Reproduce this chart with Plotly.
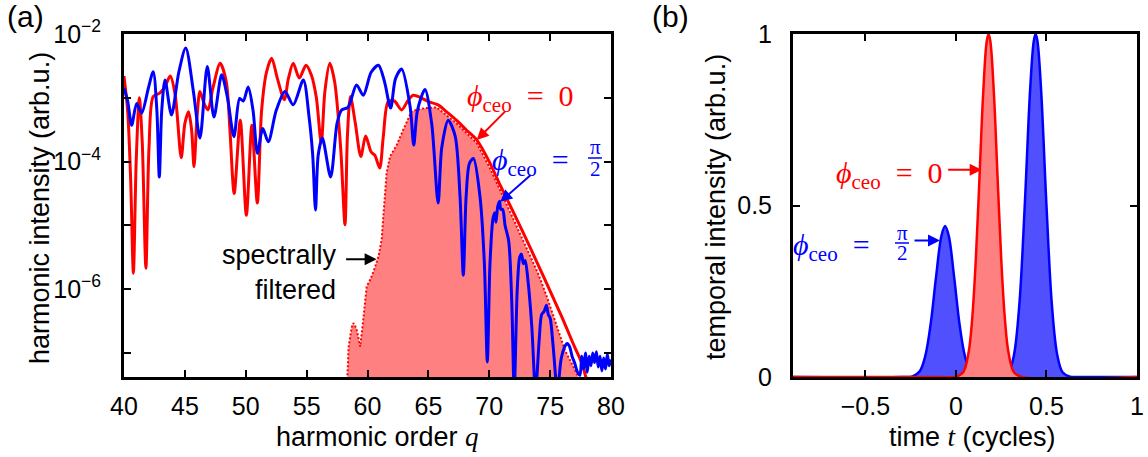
import numpy as np
import plotly.graph_objects as go

# ---------------- panel (a): harmonic spectra (log10 of intensity) ----------------
red_q = [40.0, 40.3, 40.55, 40.77, 41.0, 41.26, 41.5, 41.8, 42.05, 42.4, 42.9, 43.3, 43.8,
         44.2, 44.7, 45.0, 45.3, 45.55, 45.75, 46.0, 46.24, 46.6, 46.9, 47.3, 47.9, 48.4,
         48.7, 49.05, 49.55, 50.05, 50.5, 50.95, 51.3, 51.7, 52.13, 52.6, 53.17, 53.5, 53.9,
         54.4, 54.95, 55.4, 55.8, 56.2, 56.5, 56.9, 57.3, 57.8, 58.15, 58.35, 58.6, 59.0,
         59.45, 59.85, 60.3, 60.6, 61.0, 61.3, 61.7, 62.2, 62.8, 63.3, 63.76, 64.4, 65.0,
         65.8, 66.5, 67.3, 68.1, 68.97, 70.0, 70.9, 72.0, 73.2, 74.5, 75.95, 77.0, 77.6, 78.1]
red_log = [-2.66, -3.2, -4.3, -5.75, -4.0, -3.0, -3.7, -5.67, -3.8, -2.98, -2.93, -2.85, -2.66,
           -2.95, -3.94, -3.4, -3.22, -3.5, -4.08, -3.3, -2.9, -3.1, -3.19, -2.85, -2.46, -2.75,
           -3.5, -4.5, -3.35, -4.84, -3.43, -4.65, -3.2, -2.6, -2.38, -2.7, -3.03, -2.7, -2.46,
           -2.69, -2.49, -2.65, -3.0, -3.71, -2.9, -2.46, -2.75, -3.8, -4.99, -3.6, -2.98, -3.4,
           -3.92, -3.6, -3.85, -3.9, -4.1, -3.6, -3.06, -3.05, -3.19, -3.05, -2.96, -3.0, -3.06,
           -3.11, -3.22, -3.35, -3.5, -3.66, -4.0, -4.37, -4.8, -5.28, -5.82, -6.43, -6.9, -7.16, -7.5]

blue_q = [40.0, 40.3, 40.63, 41.04, 41.45, 42.0, 42.4, 42.7, 42.9, 43.1, 43.37, 43.9, 44.5,
          45.07, 45.7, 46.24, 46.84, 47.39, 48.02, 48.5, 49.03, 49.5, 49.8, 50.2, 50.6, 50.96,
          51.4, 51.85, 52.5, 53.22, 53.9, 54.73, 55.2, 55.5, 55.73, 55.95, 56.29, 56.97, 57.5,
          57.87, 58.4, 59.1, 59.65, 60.3, 60.9, 61.4, 61.9, 62.3, 62.8, 63.5, 63.8, 64.1, 64.72,
          65.27, 65.8, 66.1, 66.63, 67.2, 67.6, 67.87, 68.1, 68.37, 68.7, 69.24, 69.6, 69.84,
          70.06, 70.3, 70.45, 70.55, 70.7, 70.85, 70.95, 71.1, 71.3, 71.6, 71.85, 72.05, 72.3,
          72.5, 72.65, 72.8, 72.95, 73.2, 73.5, 73.8, 74.1, 74.3, 74.5, 74.7, 74.85, 75.0, 75.25,
          75.6, 75.9, 76.2, 76.4, 76.6, 76.8, 77.0, 77.25, 77.45, 77.6, 77.75, 77.9, 78.05, 78.2,
          78.35, 78.5, 78.65, 78.8, 78.95, 79.1, 79.25, 79.4, 79.55, 79.7, 79.85, 80.0]
blue_log = [-2.85, -3.05, -3.43, -3.09, -3.24, -2.85, -2.59, -3.2, -4.24, -3.2, -2.72, -3.27, -2.6,
            -2.22, -2.9, -3.63, -2.51, -3.30, -2.64, -3.0, -3.61, -3.01, -3.05, -2.83, -3.2, -3.87,
            -3.48, -3.69, -3.2, -2.90, -3.11, -2.72, -3.3, -3.9, -4.76, -3.9, -3.63, -4.24, -3.4,
            -3.19, -3.15, -2.8, -2.96, -2.6, -2.49, -2.75, -3.16, -2.7, -2.55, -3.14, -3.74, -3.2, -2.87,
            -3.4, -4.65, -3.78, -3.35, -3.6, -4.55, -5.78, -4.55, -4.03, -3.95, -4.55, -5.6, -7.14,
            -5.6, -4.9, -4.8, -4.95, -4.7, -4.62, -4.75, -4.75, -5.0, -5.25, -6.2, -7.6, -6.0,
            -5.5, -5.45, -5.6, -5.55, -5.9, -6.6, -7.6, -6.8, -6.4, -6.35, -6.25, -6.4, -6.45, -6.9,
            -7.6, -7.1, -6.9, -6.85, -6.9, -7.05, -7.15, -7.3, -7.35, -7.05, -7.25, -7.0, -7.3, -7.05,
            -7.2, -7.0, -7.15, -6.98, -7.22, -7.05, -7.28, -7.08, -7.25, -7.02, -7.2, -7.1]

# spectrally filtered part of the phi_ceo = 0 spectrum
filt_q = [58.30, 58.45, 58.7, 58.84, 59.1, 59.4, 59.65, 59.93, 60.2, 60.5, 60.9, 61.16, 61.3,
          61.57, 61.85, 62.4, 62.94, 63.6, 64.0, 64.8, 65.67, 66.1, 67.3, 68.97, 70.0, 70.9,
          72.0, 73.0, 74.0, 74.7, 75.5, 76.2, 77.0, 77.6]
filt_log = [-7.6, -6.9, -6.6, -6.53, -6.62, -6.9, -6.48, -5.96, -5.86, -5.72, -5.49, -5.23, -4.86,
            -4.18, -3.92, -3.74, -3.5, -3.22, -3.19, -3.16, -3.15, -3.22, -3.4, -3.71, -4.08, -4.45,
            -4.9, -5.33, -5.75, -6.1, -6.55, -6.95, -7.25, -7.5]

q_ticks = [40, 45, 50, 55, 60, 65, 70, 75, 80]
y_decades = [-2, -3, -4, -5, -6, -7]

# ---------------- panel (b): temporal intensity ----------------
t_red = [-0.9, -0.1, 0.0, 0.04, 0.07, 0.09, 0.11, 0.13, 0.15, 0.17, 0.18, 0.19, 0.21, 0.23,
         0.25, 0.27, 0.29, 0.32, 0.36, 1.0]
i_red = [0.0, 0.0, 0.001, 0.014, 0.072, 0.172, 0.345, 0.581, 0.823, 0.979, 1.0, 0.979, 0.823,
         0.581, 0.345, 0.172, 0.072, 0.014, 0.001, 0.0]

t_blue = [-0.9, -0.3, -0.24, -0.2, -0.17, -0.14, -0.11, -0.08, -0.06, -0.04, -0.01, 0.02, 0.05,
          0.08, 0.12, 0.2, 0.25, 0.29, 0.32, 0.35, 0.38, 0.41, 0.43, 0.44, 0.45, 0.47, 0.5, 0.53,
          0.56, 0.59, 0.63, 0.68, 1.0]
i_blue = [0.0, 0.0, 0.002, 0.017, 0.06, 0.153, 0.291, 0.412, 0.44, 0.412, 0.291, 0.153, 0.06,
          0.017, 0.002, 0.0, 0.001, 0.013, 0.063, 0.21, 0.5, 0.84, 0.98, 1.0, 0.98, 0.84, 0.5,
          0.21, 0.063, 0.013, 0.001, 0.0, 0.0]
t_ticks = [-0.5, 0, 0.5, 1]
i_ticks = [0, 0.5, 1]

RED = "#ff0000"
BLUE = "#0000ff"
RED_FILL = "rgb(255,128,128)"
BLUE_FILL = "rgb(80,80,255)"
SANS = "Liberation Sans, Arial, sans-serif"
SERIF = "Liberation Serif, DejaVu Serif, serif"
W, H = 1148, 457


def px(x):
    return x / W


def py(y):
    return 1 - y / H


fig = go.Figure()

fig.add_trace(go.Scatter(x=filt_q, y=10 ** np.array(filt_log), mode="lines",
                         line=dict(color=RED, width=2, dash="2px,2px"),
                         fill="tozeroy", fillcolor=RED_FILL,
                         xaxis="x", yaxis="y", showlegend=False))
fig.add_trace(go.Scatter(x=red_q, y=10 ** np.array(red_log), mode="lines",
                         line=dict(color=RED, width=3, shape="spline", smoothing=0.8),
                         xaxis="x", yaxis="y", showlegend=False))
fig.add_trace(go.Scatter(x=blue_q, y=10 ** np.array(blue_log), mode="lines",
                         line=dict(color=BLUE, width=3, shape="spline", smoothing=0.8),
                         xaxis="x", yaxis="y", showlegend=False))

fig.add_trace(go.Scatter(x=t_blue, y=i_blue, mode="lines",
                         line=dict(color=BLUE, width=2.5, shape="spline"),
                         fill="tozeroy", fillcolor=BLUE_FILL,
                         xaxis="x2", yaxis="y2", showlegend=False))
fig.add_trace(go.Scatter(x=t_red, y=i_red, mode="lines",
                         line=dict(color=RED, width=2.5, shape="spline"),
                         fill="tozeroy", fillcolor=RED_FILL,
                         xaxis="x2", yaxis="y2", showlegend=False))

axis_common = dict(showline=True, linewidth=3, linecolor="black", mirror="ticks",
                   ticks="inside", ticklen=7, tickwidth=2, tickcolor="black",
                   showgrid=False, zeroline=False, automargin=False,
                   tickfont=dict(family=SANS, size=25, color="black"))

ydom = [py(377), py(34)]
fig.update_layout(
    width=W, height=H, margin=dict(l=0, r=0, t=0, b=0, autoexpand=False),
    paper_bgcolor="white", plot_bgcolor="white",
    xaxis=dict(domain=[px(124), px(611)], range=[40, 80], tickvals=q_ticks,
               ticklabelstandoff=5, anchor="y", **axis_common),
    yaxis=dict(domain=ydom, type="log", range=[-7.376, -2],
               tickvals=[10.0 ** d for d in y_decades],
               ticktext=[("10<sup>\u2212%d</sup>" % -d) if d % 2 == 0 else "" for d in y_decades],
               ticklabelstandoff=15, anchor="x", **axis_common),
    xaxis2=dict(domain=[px(793), px(1137)], range=[-0.9, 1.0], tickvals=t_ticks,
                ticktext=["\u22120.5", "0", "0.5", "1"],
                ticklabelstandoff=5, anchor="y2", **axis_common),
    yaxis2=dict(domain=ydom, range=[0, 1], tickvals=i_ticks, ticktext=["0", "0.5", "1"],
                ticklabelstandoff=13, anchor="x2", **axis_common),
)

ann = []


def label(x, y, text, font, **kw):
    d = dict(x=px(x), y=py(y), xref="paper", yref="paper", showarrow=False,
             xanchor="center", yanchor="middle", text=text, font=font)
    d.update(kw)
    ann.append(d)


# axis titles
title_font = dict(family=SANS, size=27, color="black")
label(377, 437, "harmonic order <span style=\"font-family:'Liberation Serif'\"><i>q</i></span>",
      title_font)
label(972, 437, "time <span style=\"font-family:'Liberation Serif'\"><i>t</i></span> (cycles)",
      title_font)
label(40, 208, "harmonic intensity (arb.u.)", title_font, textangle=-90)
label(716, 207, "temporal intensity (arb.u.)", title_font, textangle=-90)
# panel letters
label(25, 17, "(a)", dict(family=SANS, size=30, color="black"))
label(670, 17, "(b)", dict(family=SANS, size=30, color="black"))

sp = "\u2002"
phi = "<i>\u03d5</i><sub>ceo</sub>" + sp + "=" + sp
math_red = dict(family=SERIF, size=30, color=RED)
math_blue = dict(family=SERIF, size=30, color=BLUE)
frac_font = dict(family=SERIF, size=21, color=BLUE)
# panel (a) labels
label(520, 98, phi + "0", math_red)
label(538, 162, phi, math_blue)
label(595, 147, "\u03c0", frac_font)
label(595, 169, "2", frac_font)
label(339, 272, "spectrally<br>filtered", dict(family=SANS, size=27, color="black"),
      xanchor="right", align="right")
# panel (b) labels
label(889, 175, phi + "0", math_red)
label(839, 247, phi, math_blue)
label(902, 233, "\u03c0", frac_font)
label(902, 253, "2", frac_font)

# arrows pointing at the curves
arrow = dict(showarrow=True, text="", arrowhead=2, arrowsize=1.2, arrowwidth=2, standoff=0)
ann.append(dict(x=68.97, y=-3.66, xref="x", yref="y", ax=30, ay=-30, arrowcolor=RED, **arrow))
ann.append(dict(x=70.9, y=-4.63, xref="x", yref="y", ax=32, ay=-28, arrowcolor=BLUE, **arrow))
ann.append(dict(x=60.75, y=-5.53, xref="x", yref="y", ax=-32, ay=0, arrowcolor="black", **arrow))
ann.append(dict(x=0.142, y=0.604, xref="x2", yref="y2", ax=-35, ay=0, arrowcolor=RED, **arrow))
ann.append(dict(x=-0.088, y=0.398, xref="x2", yref="y2", ax=-27, ay=0, arrowcolor=BLUE, **arrow))

fig.update_layout(annotations=ann)

# fraction bars of pi/2
fig.update_layout(shapes=[
    dict(type="line", xref="paper", yref="paper", x0=px(588), x1=px(602), y0=py(158), y1=py(158),
         line=dict(color=BLUE, width=1.5)),
    dict(type="line", xref="paper", yref="paper", x0=px(895), x1=px(909), y0=py(243), y1=py(243),
         line=dict(color=BLUE, width=1.5)),
])

fig.write_html("out.html")
